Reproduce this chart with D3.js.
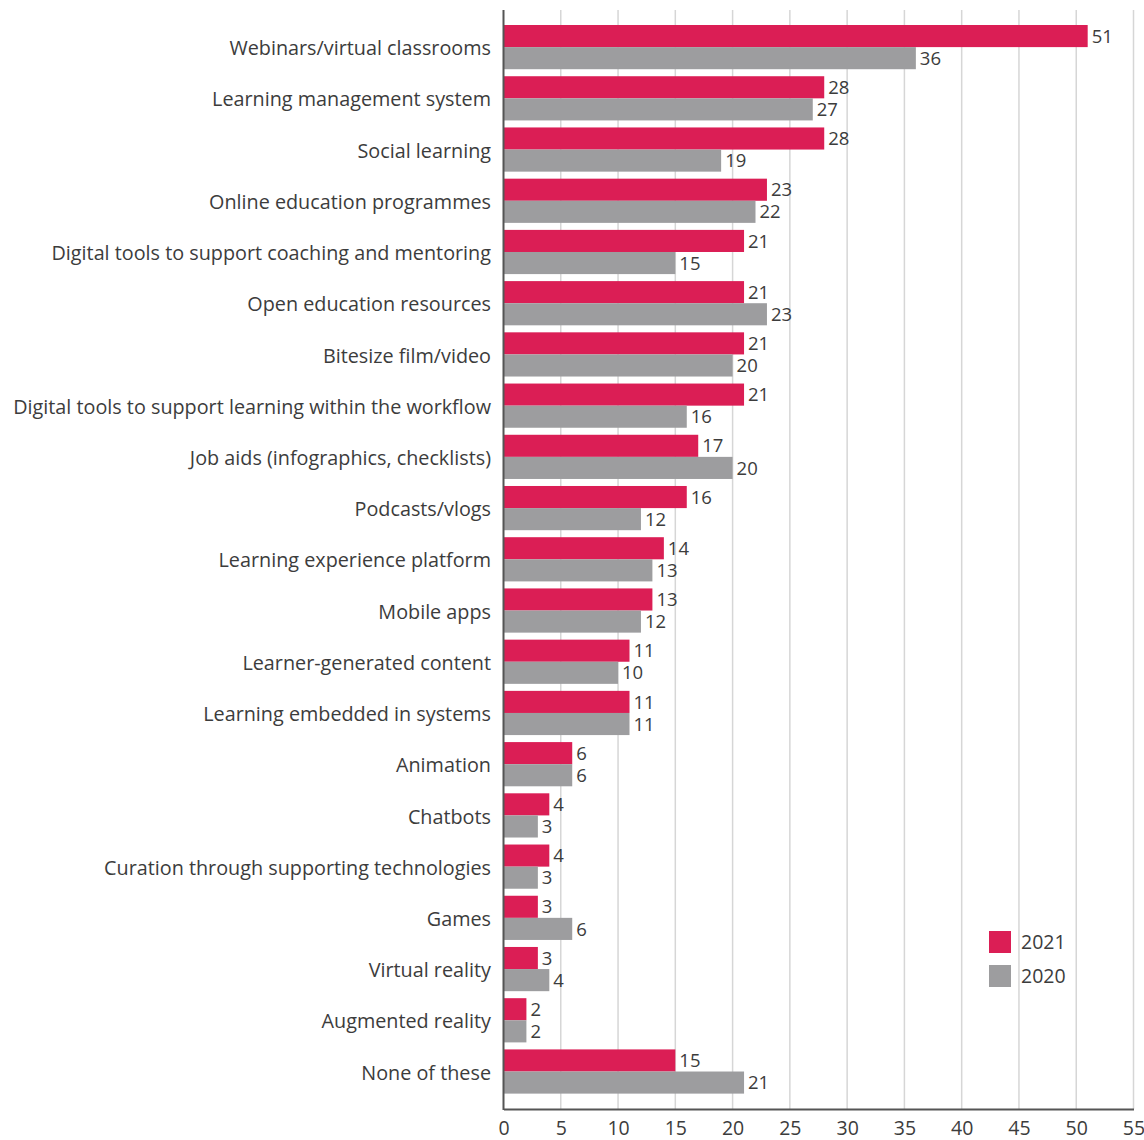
<!DOCTYPE html>
<html>
<head>
<meta charset="utf-8">
<script src="https://cdn.jsdelivr.net/npm/d3@7"></script>
<style>
  html, body { margin: 0; padding: 0; background: #fff; }
  svg { display: block; }
  text { font-family: "Open Sans", Lato, sans-serif; fill: #3c3c3c; }
</style>
</head>
<body>
<svg id="chart" width="1144" height="1140"></svg>
<script>
// Categories, top to bottom
const categories = [
  "Webinars/virtual classrooms",
  "Learning management system",
  "Social learning",
  "Online education programmes",
  "Digital tools to support coaching and mentoring",
  "Open education resources",
  "Bitesize film/video",
  "Digital tools to support learning within the workflow",
  "Job aids (infographics, checklists)",
  "Podcasts/vlogs",
  "Learning experience platform",
  "Mobile apps",
  "Learner-generated content",
  "Learning embedded in systems",
  "Animation",
  "Chatbots",
  "Curation through supporting technologies",
  "Games",
  "Virtual reality",
  "Augmented reality",
  "None of these"
];

// Share of respondents (%) per year
const values2021 = [51, 28, 28, 23, 21, 21, 21, 21, 17, 16, 14, 13, 11, 11, 6, 4, 4, 3, 3, 2, 15];
const values2020 = [36, 27, 19, 22, 15, 23, 20, 16, 20, 12, 13, 12, 10, 11, 6, 3, 3, 6, 4, 2, 21];

const seriesNames = ["2021", "2020"];
const seriesColors = ["#db1e55", "#9d9d9f"];
const xTicks = [0, 5, 10, 15, 20, 25, 30, 35, 40, 45, 50, 55];

const svg = d3.select("#chart");

const plot = { left: 503.5, right: 1133.5, top: 10, bottom: 1109 };

const x = d3.scaleLinear().domain([0, 55]).range([plot.left, plot.right]);
const y = d3.scaleBand()
  .domain(categories)
  .range([21.5, 21.5 + 21 * 51.22])
  .paddingInner(0.137)
  .paddingOuter(0.0685);
const sub = d3.scaleBand().domain(seriesNames).range([0, y.bandwidth()]);

// Vertical gridlines
svg.append("g")
  .selectAll("line")
  .data(xTicks.filter(d => d > 0))
  .join("line")
  .attr("x1", d => x(d)).attr("x2", d => x(d))
  .attr("y1", plot.top).attr("y2", plot.bottom)
  .attr("stroke", "#d6d6d6")
  .attr("stroke-width", 1.5);

// Bars
const rows = categories.map((c, i) => ({ cat: c, vals: [values2021[i], values2020[i]] }));

const groups = svg.append("g")
  .selectAll("g")
  .data(rows)
  .join("g")
  .attr("transform", d => `translate(0,${y(d.cat)})`);

groups.selectAll("rect")
  .data(d => d.vals.map((v, k) => ({ v, k })))
  .join("rect")
  .attr("x", x(0))
  .attr("y", d => sub(seriesNames[d.k]))
  .attr("width", d => x(d.v) - x(0))
  .attr("height", sub.bandwidth())
  .attr("fill", d => seriesColors[d.k]);

groups.selectAll("text.val")
  .data(d => d.vals.map((v, k) => ({ v, k })))
  .join("text")
  .attr("class", "val")
  .attr("x", d => x(d.v) + 4)
  .attr("y", d => sub(seriesNames[d.k]) + sub.bandwidth() / 2)
  .attr("dy", "0.36em")
  .attr("font-size", 18.5)
  .text(d => d.v);

// Category labels
svg.append("g")
  .selectAll("text")
  .data(categories)
  .join("text")
  .attr("x", 491)
  .attr("y", d => y(d) + y.bandwidth() / 2 + 1)
  .attr("dy", "0.36em")
  .attr("text-anchor", "end")
  .attr("font-size", 19.8)
  .text(d => d);

// Axes
const xAxis = d3.axisBottom(x).tickValues(xTicks).tickSize(0).tickPadding(12.5);
const gx = svg.append("g")
  .attr("transform", `translate(0,${plot.bottom})`)
  .call(xAxis);
gx.select(".domain").attr("stroke", "#555").attr("stroke-width", 2);
gx.selectAll("text").attr("font-size", 19.5).attr("fill", "#3c3c3c").style("font-family", "'Open Sans', sans-serif");

svg.append("line")
  .attr("x1", plot.left).attr("x2", plot.left)
  .attr("y1", plot.top).attr("y2", plot.bottom + 1)
  .attr("stroke", "#555")
  .attr("stroke-width", 2);

// Legend
const legend = svg.append("g").attr("transform", "translate(989,931)");
const items = legend.selectAll("g")
  .data(seriesNames)
  .join("g")
  .attr("transform", (d, i) => `translate(0,${i * 34})`);
items.append("rect")
  .attr("width", 22).attr("height", 22)
  .attr("fill", (d, i) => seriesColors[i]);
items.append("text")
  .attr("x", 32).attr("y", 11).attr("dy", "0.36em")
  .attr("font-size", 19.5)
  .text(d => d);
</script>
</body>
</html>
